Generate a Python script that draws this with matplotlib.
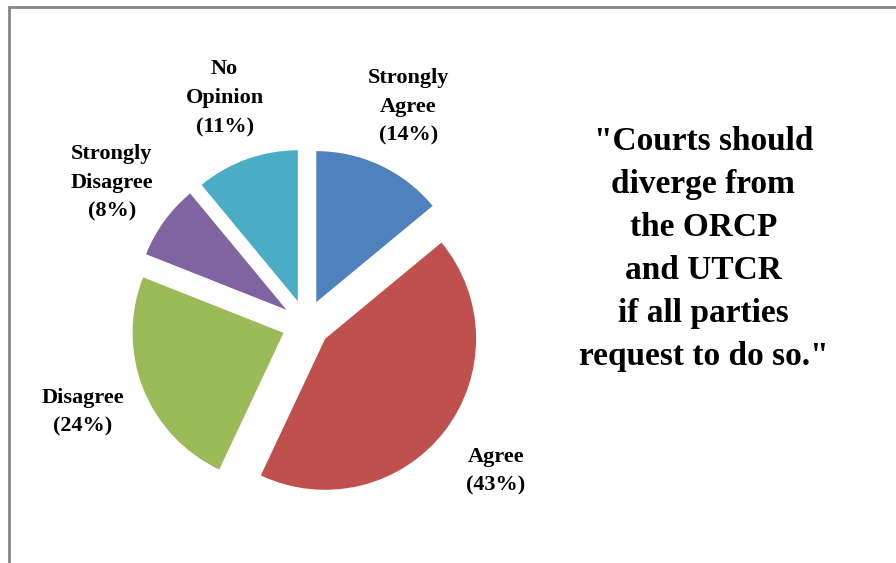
import matplotlib.pyplot as plt
from matplotlib.patches import Rectangle

categories = ['Strongly\nAgree', 'Agree', 'Disagree', 'Strongly\nDisagree', 'No\nOpinion']
values = [14, 43, 24, 8, 11]
colors = ['#4F81BD', '#C0504D', '#9BBB59', '#8064A2', '#4BACC6']
quote = '"Courts should\ndiverge from\nthe ORCP\nand UTCR\nif all parties\nrequest to do so."'

plt.rcParams['font.family'] = ['Liberation Serif', 'DejaVu Serif']

fig = plt.figure(figsize=(8.96, 5.63), dpi=100)
ax = fig.add_axes([0, 0, 1, 1])

labels = ['%s\n(%d%%)' % (c, v) for c, v in zip(categories, values)]
wedges, texts = ax.pie(values, labels=labels, colors=colors, startangle=90,
                       counterclock=False, explode=[0.16] * 5,
                       labeldistance=1.43,
                       textprops={'fontsize': 16, 'fontweight': 'bold',
                                  'linespacing': 1.6})
for t in texts:
    t.set_ha('center')
    t.set_va('center')

# pie centre at (306, 324) px, radius 151 px
cx, cy, r = 306, 324, 151
ax.set_xlim(-cx / r, (896 - cx) / r)
ax.set_ylim(-(563 - cy) / r, cy / r)
ax.set_aspect('equal')
ax.axis('off')

fig.text(0.785, 0.557, quote, ha='center', va='center', fontsize=24,
         fontweight='bold', linespacing=1.5)

# chart frame (right and bottom edges cut off in the original)
fig.patches.append(Rectangle((9 / 896, -0.1), 1.2, 1.1 - 7 / 563,
                             transform=fig.transFigure, fill=False,
                             edgecolor='#868686', linewidth=2))

fig.savefig('out.png', dpi=100)
